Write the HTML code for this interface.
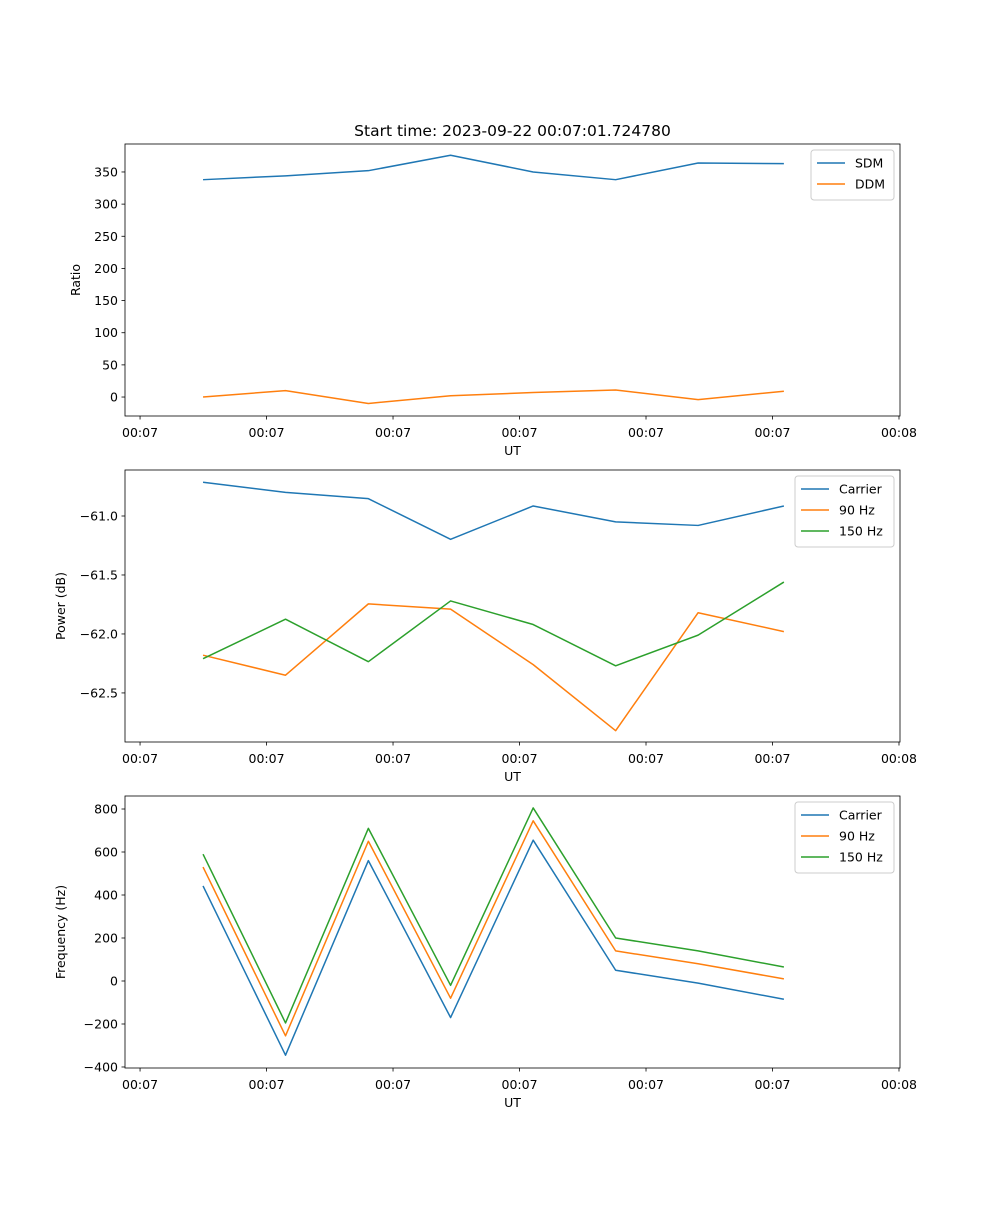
<!DOCTYPE html>
<html><head><meta charset="utf-8"><style>
body{margin:0;background:#fff}
svg text{font-family:"DejaVu Sans","Liberation Sans",sans-serif;fill:#000}
</style></head><body>
<svg id="fig" width="1000" height="1200" xmlns="http://www.w3.org/2000/svg"></svg>
<script>
const times=[4.98,11.5,18.05,24.55,31.08,37.6,44.12,50.9];
const xTicks=[0,10,20,30,40,50,60];
const xTickLabels=["00:07","00:07","00:07","00:07","00:07","00:07","00:08"];
const sdm=[338,344,352,376,350,338,364,363];
const ddm=[0,10,-10,2,7,11,-4,9];
const pCarrier=[-60.714,-60.80,-60.853,-61.198,-60.915,-61.05,-61.08,-60.915];
const p90=[-62.18,-62.35,-61.745,-61.79,-62.26,-62.82,-61.82,-61.98];
const p150=[-62.21,-61.875,-62.235,-61.72,-61.92,-62.27,-62.01,-61.56];
const fCarrier=[442,-345,560,-170,655,50,-10,-85];
const f90=[530,-255,650,-80,745,140,80,10];
const f150=[590,-195,710,-20,805,200,140,65];
const ratioTicks=[0,50,100,150,200,250,300,350];
const powerTicks=[-61.0,-61.5,-62.0,-62.5];
const powerTickLabels=["\u221261.0","\u221261.5","\u221262.0","\u221262.5"];
const freqTicks=[-400,-200,0,200,400,600,800];
const freqTickLabels=["\u2212400","\u2212200","0","200","400","600","800"];
const C=["#1f77b4","#ff7f0e","#2ca02c"];
const NS="http://www.w3.org/2000/svg";
const svg=document.getElementById('fig');
function el(t,a,p){const e=document.createElementNS(NS,t);for(const k in a)e.setAttribute(k,a[k]);(p||svg).appendChild(e);return e;}
const L=125,R=900,xmin=-1.19,xmax=60.08;
const xs=v=>L+(v-xmin)/(xmax-xmin)*(R-L);
function panel(name,top,bot,ymin,ymax,yt,ytl,ylabel,series,names,legW,title){
  const g=el('g',{});
  
  
  const ys=v=>bot-(v-ymin)/(ymax-ymin)*(bot-top);
  series.forEach((s,i)=>{
    const pl=el('polyline',{points:s.map((v,j)=>xs(times[j])+','+ys(v)).join(' '),fill:'none',stroke:C[i],'stroke-width':1.5,'stroke-linejoin':'round'},g);
    
    
  });
  const fr=el('rect',{x:L,y:top,width:R-L,height:bot-top,fill:'none',stroke:'#000','stroke-width':0.8},g);
  
  
  xTicks.forEach((t,i)=>{const x=xs(t);el('line',{x1:x,x2:x,y1:bot,y2:bot+3.5,stroke:'#000','stroke-width':0.8},g);
    const tx=el('text',{x:x,y:bot+21,'font-size':12.5,'text-anchor':'middle'},g);tx.textContent=xTickLabels[i];
    
    });
  yt.forEach((t,i)=>{const y=ys(t);el('line',{x1:L-3.5,x2:L,y1:y,y2:y,stroke:'#000','stroke-width':0.8},g);
    const tx=el('text',{x:L-7,y:y+4.5,'font-size':12.5,'text-anchor':'end'},g);tx.textContent=ytl[i];
    
    });
  const xl=el('text',{x:(L+R)/2,y:bot+39,'font-size':12.5,'text-anchor':'middle'},g);xl.textContent='UT';
  
  
  const yx=name==='ratio'?80:65;
  const yl=el('text',{x:yx,y:(top+bot)/2,'font-size':12.5,'text-anchor':'middle',transform:`rotate(-90 ${yx} ${(top+bot)/2})`},g);yl.textContent=ylabel;
  
  
  if(title){const tt=el('text',{x:(L+R)/2,y:top-8,'font-size':15.5,'text-anchor':'middle'},g);tt.textContent=title;
    
    }
  const lg=el('g',{},g);
  
  
  const lx=R-6-legW,ly=top+6,lh=names.length*21+8;
  el('rect',{x:lx,y:ly,width:legW,height:lh,rx:3,fill:'#fff','fill-opacity':0.8,stroke:'#ccc'},lg);
  names.forEach((n,i)=>{const y=ly+13+i*21;
    el('line',{x1:lx+6,x2:lx+34,y1:y,y2:y,stroke:C[i],'stroke-width':1.5},lg);
    const t=el('text',{x:lx+44,y:y+4.5,'font-size':12.5},lg);t.textContent=n;
    
    });
}
panel('ratio',144,416,-29.5,393.5,ratioTicks,ratioTicks.map(String),'Ratio',[sdm,ddm],['SDM','DDM'],83,'Start time: 2023-09-22 00:07:01.724780');
panel('power',470,742,-62.916,-60.61,powerTicks,powerTickLabels,'Power (dB)',[pCarrier,p90,p150],['Carrier','90 Hz','150 Hz'],99);
panel('frequency',796,1068,-404.7,860.5,freqTicks,freqTickLabels,'Frequency (Hz)',[fCarrier,f90,f150],['Carrier','90 Hz','150 Hz'],99);
</script>
</body></html>
